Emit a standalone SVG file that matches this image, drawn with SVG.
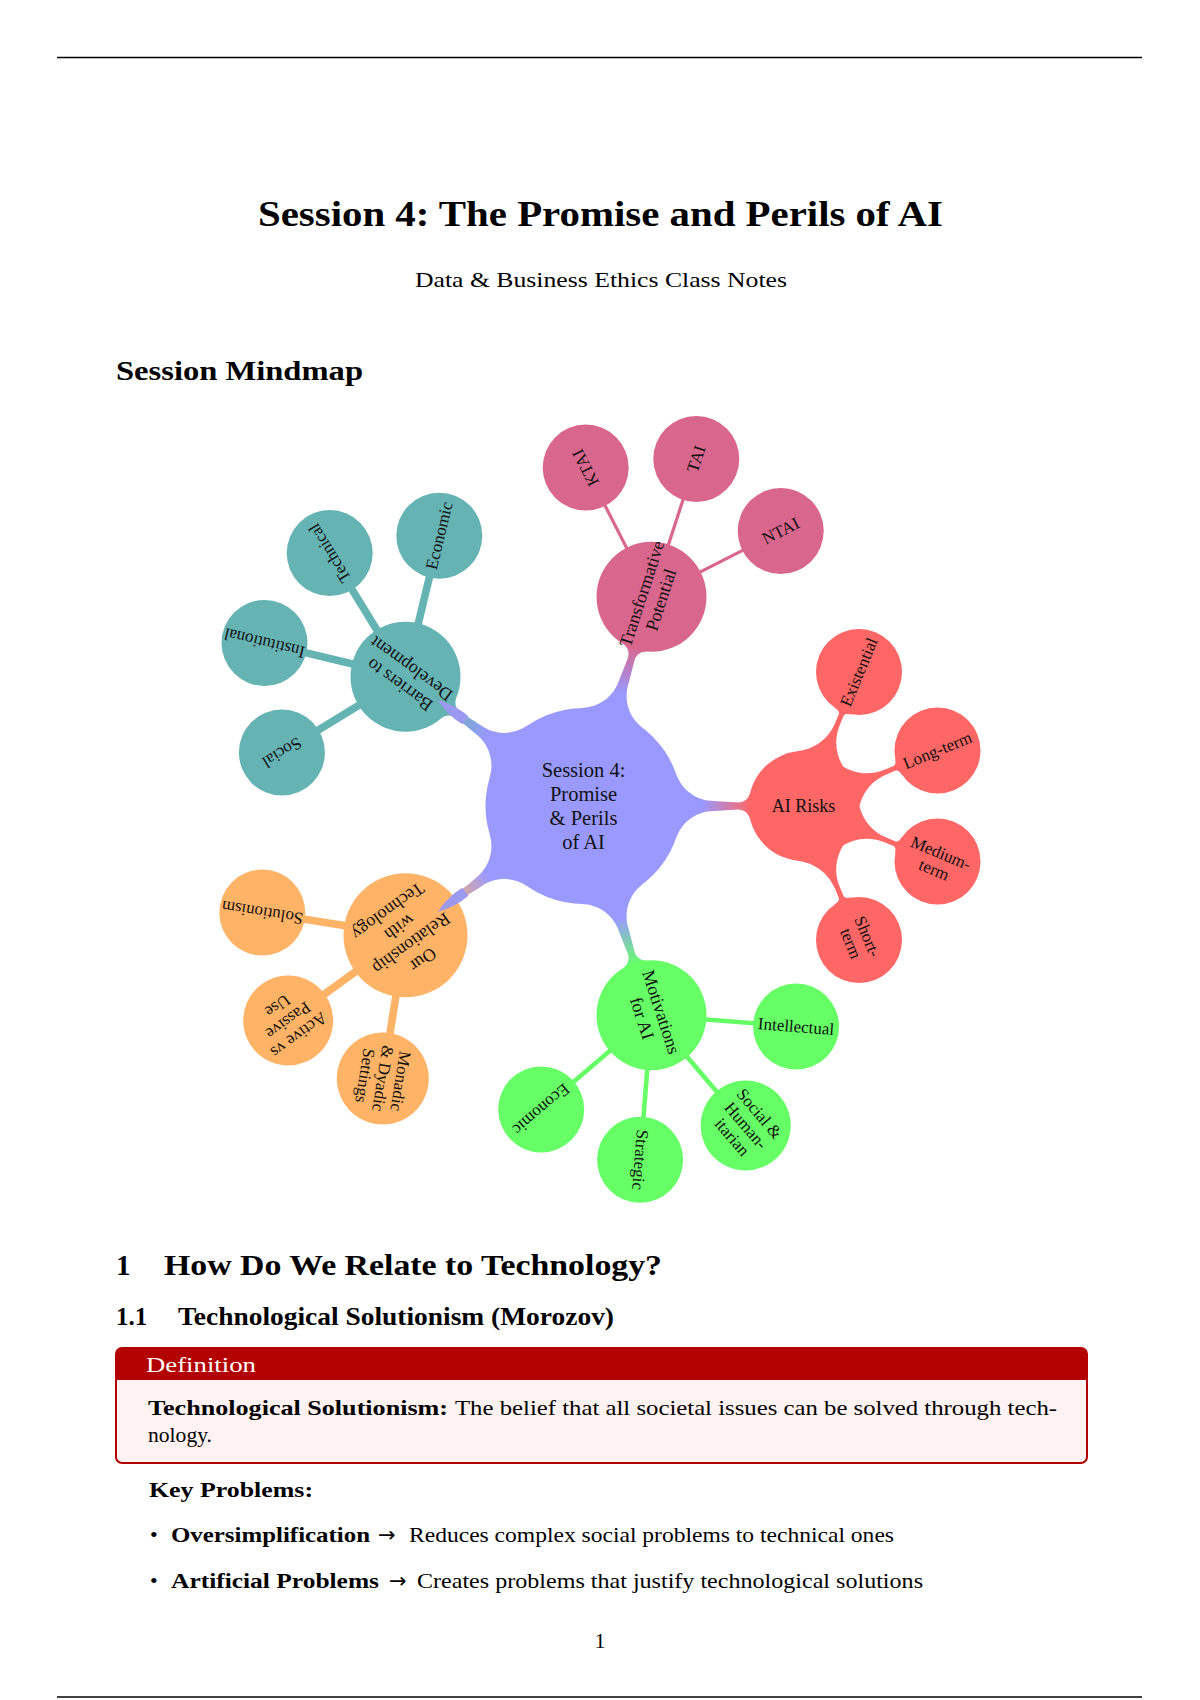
<svg xmlns="http://www.w3.org/2000/svg" xmlns:xlink="http://www.w3.org/1999/xlink" width="1200" height="1700" viewBox="0 0 1200 1700">
<style>
  text{font-family:"Liberation Serif","Times New Roman",serif;fill:#000}
  .b{font-weight:bold}
  .w{fill:#fff}
  .l0{font-size:20.5px;fill:#111;text-anchor:middle}
  .l1{font-size:18px;fill:#111;text-anchor:middle}
  .l2{font-size:17px;fill:#111;text-anchor:middle}
  .cb{fill:#9999ff}
  .cp{fill:#d9668c}
  .cr{fill:#ff6666}
  .cg{fill:#66ff66}
  .co{fill:#ffb366}
  .ct{fill:#66b3b3}
  .rule{stroke:#000;stroke-width:1.6}
  .body{font-size:22px}
  .arr{font-family:"DejaVu Sans",sans-serif;font-size:21px}
</style>
<defs>
  <linearGradient id="gT" gradientUnits="userSpaceOnUse" x1="118" y1="0" x2="168" y2="0"><stop offset="0" stop-color="#9999ff"/><stop offset="1" stop-color="#d9668c"/></linearGradient>
  <linearGradient id="gR" gradientUnits="userSpaceOnUse" x1="118" y1="0" x2="168" y2="0"><stop offset="0" stop-color="#9999ff"/><stop offset="1" stop-color="#ff6666"/></linearGradient>
  <linearGradient id="gM" gradientUnits="userSpaceOnUse" x1="118" y1="0" x2="168" y2="0"><stop offset="0" stop-color="#9999ff"/><stop offset="1" stop-color="#66ff66"/></linearGradient>
  <linearGradient id="gO" gradientUnits="userSpaceOnUse" x1="118" y1="0" x2="168" y2="0"><stop offset="0" stop-color="#9999ff"/><stop offset="1" stop-color="#ffb366"/></linearGradient>
  <linearGradient id="gB" gradientUnits="userSpaceOnUse" x1="118" y1="0" x2="168" y2="0"><stop offset="0" stop-color="#9999ff"/><stop offset="1" stop-color="#66b3b3"/></linearGradient>
  <path id="arm" d="M92.7,-32 C98.3,-15.8 113.4,-5 130.5,-5 L154.8,-3.5 C160.3,-3.5 165.2,-7.3 166.5,-12.7 L166.5,12.7 C165.2,7.3 160.3,3.5 154.8,3.5 L130.5,5 C113.4,5 98.3,15.8 92.7,32 Z"/>
  <rect id="barW" x="35" y="-3.8" width="80" height="7.6"/>
  <rect id="barM" x="35" y="-2.3" width="80" height="4.6"/>
  <rect id="barN" x="35" y="-1.6" width="80" height="3.2"/>
  <path id="fil" d="M47.6,-27.5 C55.1,-14.5 68,-3 88,-2.5 L98,-2.5 C101,-2.5 102,-5 103.2,-10 L103.2,10 C102,5 101,2.5 98,2.5 L88,2.5 C68,3 55.1,14.5 47.6,27.5 Z"/>
  <path id="tip" d="M146,-5 C158,-6 170,-4 180,0 C170,4 158,6 146,5 Z"/>
</defs>

<rect width="1200" height="1700" fill="#fff"/>

<!-- page rules -->
<line class="rule" x1="57" y1="57.5" x2="1142" y2="57.5"/>
<line class="rule" x1="57" y1="1697" x2="1142" y2="1697"/>

<!-- title block -->
<text class="b" x="600.5" y="226" font-size="36" text-anchor="middle" textLength="685" lengthAdjust="spacingAndGlyphs">Session 4: The Promise and Perils of AI</text>
<text x="601" y="287" font-size="22" text-anchor="middle" textLength="372" lengthAdjust="spacingAndGlyphs">Data &amp; Business Ethics Class Notes</text>
<text class="b" x="116" y="380" font-size="28" textLength="247" lengthAdjust="spacingAndGlyphs">Session Mindmap</text>

<!-- mindmap connectors -->
<g id="connectors">
  <use xlink:href="#arm" href="#arm" fill="url(#gT)" transform="translate(583.5,806) rotate(-72)"/>
  <use xlink:href="#arm" href="#arm" fill="url(#gR)" transform="translate(583.5,806) rotate(0)"/>
  <use xlink:href="#arm" href="#arm" fill="url(#gM)" transform="translate(583.5,806) rotate(72)"/>
  <use xlink:href="#arm" href="#arm" fill="url(#gO)" transform="translate(583.5,806) rotate(144)"/>
  <use xlink:href="#arm" href="#arm" fill="url(#gB)" transform="translate(583.5,806) rotate(216)"/>
  <g class="cp" transform="translate(651.5,596.8)">
    <use href="#barN" transform="rotate(-117)"/>
    <use href="#barN" transform="rotate(-72)"/>
    <use href="#barN" transform="rotate(-27)"/>
  </g>
  <g class="cr" transform="translate(803.5,806)">
    <use href="#fil" transform="rotate(-67.5)"/>
    <use href="#fil" transform="rotate(-22.5)"/>
    <use href="#fil" transform="rotate(22.5)"/>
    <use href="#fil" transform="rotate(67.5)"/>
  </g>
  <g class="cg" transform="translate(651.5,1015.2)">
    <use href="#barM" transform="rotate(4.5)"/>
    <use href="#barM" transform="rotate(49.5)"/>
    <use href="#barM" transform="rotate(94.5)"/>
    <use href="#barM" transform="rotate(139.5)"/>
  </g>
  <g class="co" transform="translate(405.5,935.3)">
    <use href="#barW" transform="rotate(99)"/>
    <use href="#barW" transform="rotate(144)"/>
    <use href="#barW" transform="rotate(189)"/>
  </g>
  <g class="ct" transform="translate(405.5,676.7)">
    <use href="#barW" transform="rotate(148.5)"/>
    <use href="#barW" transform="rotate(193.5)"/>
    <use href="#barW" transform="rotate(238.5)"/>
    <use href="#barW" transform="rotate(283.5)"/>
  </g>
</g>

<!-- nodes -->
<g id="node-center" transform="translate(583.5,806)">
  <circle r="98" class="cb"/>
  <text class="l0"><tspan x="0" y="-29">Session 4:</tspan><tspan x="0" y="-5">Promise</tspan><tspan x="0" y="19">&amp; Perils</tspan><tspan x="0" y="43">of AI</tspan></text>
</g>

<g id="node-transformative" transform="translate(651.5,596.8)">
  <circle r="55" class="cp"/>
  <text class="l1" transform="rotate(-72)"><tspan x="0" y="-4.2">Transformative</tspan><tspan x="0" y="15.8">Potential</tspan></text>
</g>
<g id="node-ktai" transform="translate(585.7,467.6)">
  <circle r="43" class="cp"/>
  <text class="l2" transform="rotate(-117)" x="0" y="5.5">KTAI</text>
</g>
<g id="node-tai" transform="translate(696.3,458.9)">
  <circle r="43" class="cp"/>
  <text class="l2" transform="rotate(-72)" x="0" y="5.5">TAI</text>
</g>
<g id="node-ntai" transform="translate(780.7,531)">
  <circle r="43" class="cp"/>
  <text class="l2" transform="rotate(-27)" x="0" y="5.5">NTAI</text>
</g>

<g id="node-risks" transform="translate(803.5,806)">
  <circle r="55" class="cr"/>
  <text class="l1" x="0" y="5.8">AI Risks</text>
</g>
<g id="node-existential" transform="translate(859,672)">
  <circle r="43" class="cr"/>
  <text class="l2" transform="rotate(-67.5)" x="0" y="5.5">Existential</text>
</g>
<g id="node-longterm" transform="translate(937.5,750.5)">
  <circle r="43" class="cr"/>
  <text class="l2" transform="rotate(-22.5)" x="0" y="5.5">Long-term</text>
</g>
<g id="node-mediumterm" transform="translate(937.5,861.5)">
  <circle r="43" class="cr"/>
  <text class="l2" transform="rotate(22.5)"><tspan x="0" y="-3.5">Medium-</tspan><tspan x="0" y="14.5">term</tspan></text>
</g>
<g id="node-shortterm" transform="translate(859,940)">
  <circle r="43" class="cr"/>
  <text class="l2" transform="rotate(67.5)"><tspan x="0" y="-3.5">Short-</tspan><tspan x="0" y="14.5">term</tspan></text>
</g>

<g id="node-motivations" transform="translate(651.5,1015.2)">
  <circle r="55" class="cg"/>
  <text class="l1" transform="rotate(72)"><tspan x="0" y="-4.2">Motivations</tspan><tspan x="0" y="15.8">for AI</tspan></text>
</g>
<g id="node-intellectual" transform="translate(796.1,1026.6)">
  <circle r="43" class="cg"/>
  <text class="l2" transform="rotate(4.5)" x="0" y="5.5">Intellectual</text>
</g>
<g id="node-social-humanitarian" transform="translate(745.7,1125.5)">
  <circle r="45" class="cg"/>
  <text class="l2" transform="rotate(49.5)"><tspan x="0" y="-12.5">Social &amp;</tspan><tspan x="0" y="5.5">Human-</tspan><tspan x="0" y="23.5">itarian</tspan></text>
</g>
<g id="node-strategic" transform="translate(640.1,1159.8)">
  <circle r="43" class="cg"/>
  <text class="l2" transform="rotate(94.5)" x="0" y="5.5">Strategic</text>
</g>
<g id="node-economic-m" transform="translate(541.2,1109.4)">
  <circle r="43" class="cg"/>
  <text class="l2" transform="rotate(139.5)" x="0" y="5.5">Economic</text>
</g>

<g id="node-relationship" transform="translate(405.5,935.3)">
  <circle r="62" class="co"/>
  <text class="l1" transform="rotate(144)"><tspan x="0" y="-24.2">Our</tspan><tspan x="0" y="-4.2">Relationship</tspan><tspan x="0" y="15.8">with</tspan><tspan x="0" y="35.8">Technology</tspan></text>
</g>
<g id="node-monadic" transform="translate(382.8,1078.5)">
  <circle r="46" class="co"/>
  <text class="l2" transform="rotate(99)"><tspan x="0" y="-12.5">Monadic</tspan><tspan x="0" y="5.5">&amp; Dyadic</tspan><tspan x="0" y="23.5">Settings</tspan></text>
</g>
<g id="node-active" transform="translate(288.2,1020.5)">
  <circle r="45" class="co"/>
  <text class="l2" transform="rotate(144)"><tspan x="0" y="-12.5">Active vs</tspan><tspan x="0" y="5.5">Passive</tspan><tspan x="0" y="23.5">Use</tspan></text>
</g>
<g id="node-solutionism" transform="translate(262.3,912.6)">
  <circle r="43" class="co"/>
  <text class="l2" transform="rotate(189)" x="0" y="5.5">Solutionism</text>
</g>

<g id="node-barriers" transform="translate(405.5,676.7)">
  <circle r="55" class="ct"/>
  <text class="l1" transform="rotate(216)"><tspan x="0" y="-4.2">Barriers to</tspan><tspan x="0" y="15.8">Development</tspan></text>
</g>
<g id="node-social" transform="translate(281.9,752.5)">
  <circle r="43" class="ct"/>
  <text class="l2" transform="rotate(148.5)" x="0" y="5.5">Social</text>
</g>
<g id="node-institutional" transform="translate(264.5,642.9)">
  <circle r="43" class="ct"/>
  <text class="l2" transform="rotate(193.5)" x="0" y="5.5">Institutional</text>
</g>
<g id="node-technical" transform="translate(329.7,553.1)">
  <circle r="43" class="ct"/>
  <text class="l2" transform="rotate(238.5)" x="0" y="5.5">Technical</text>
</g>
<g id="node-economic-b" transform="translate(439.3,535.7)">
  <circle r="43" class="ct"/>
  <text class="l2" transform="rotate(283.5)" x="0" y="5.5">Economic</text>
</g>

<!-- connector tips that overlap child nodes -->
<g id="connector-tips" fill="#9c99f0">
  <use href="#tip" transform="translate(583.5,806) rotate(144)"/>
  <use href="#tip" transform="translate(583.5,806) rotate(216)"/>
</g>

<!-- section 1 -->
<text class="b" x="116" y="1275" font-size="29">1</text>
<text class="b" x="164" y="1275" font-size="29" textLength="498" lengthAdjust="spacingAndGlyphs">How Do We Relate to Technology?</text>
<text class="b" x="116" y="1325" font-size="25">1.1</text>
<text class="b" x="178" y="1325" font-size="25" textLength="436" lengthAdjust="spacingAndGlyphs">Technological Solutionism (Morozov)</text>

<g id="definition-box">
  <rect x="116" y="1348" width="971" height="115" rx="6" fill="#fff2f2" stroke="#b30000" stroke-width="2"/>
  <path d="M116,1380 V1354 Q116,1348 122,1348 H1081 Q1087,1348 1087,1354 V1380 Z" fill="#b30000"/>
  <text class="w" x="146" y="1372" font-size="21" textLength="110" lengthAdjust="spacingAndGlyphs">Definition</text>
  <text class="b body" x="148" y="1415" textLength="300" lengthAdjust="spacingAndGlyphs">Technological Solutionism:</text>
  <text class="body" x="455" y="1415" textLength="602" lengthAdjust="spacingAndGlyphs">The belief that all societal issues can be solved through tech-</text>
  <text class="body" x="148" y="1442" textLength="64" lengthAdjust="spacingAndGlyphs">nology.</text>
</g>

<text class="b body" x="149" y="1497" textLength="164" lengthAdjust="spacingAndGlyphs">Key Problems:</text>
<text class="body" x="150" y="1542">•</text>
<text class="b body" x="171" y="1542" textLength="199" lengthAdjust="spacingAndGlyphs">Oversimplification</text>
<text class="arr" x="378" y="1542">→</text>
<text class="body" x="409" y="1542" textLength="485" lengthAdjust="spacingAndGlyphs">Reduces complex social problems to technical ones</text>
<text class="body" x="150" y="1588">•</text>
<text class="b body" x="171" y="1588" textLength="208" lengthAdjust="spacingAndGlyphs">Artificial Problems</text>
<text class="arr" x="389" y="1588">→</text>
<text class="body" x="417" y="1588" textLength="506" lengthAdjust="spacingAndGlyphs">Creates problems that justify technological solutions</text>

<text class="body" x="600" y="1648" text-anchor="middle">1</text>
</svg>
